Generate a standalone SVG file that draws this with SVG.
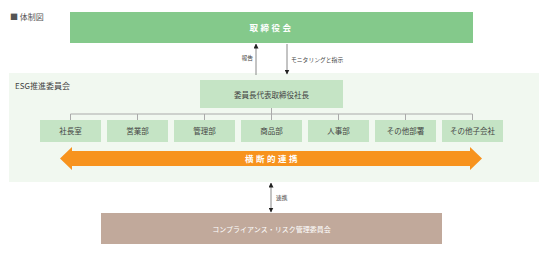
<svg xmlns="http://www.w3.org/2000/svg" width="539" height="253" viewBox="0 0 539 253">
<defs>
<style>
text{font-family:"Noto Sans CJK JP","Noto Sans",sans-serif;}
.dept{fill:#c5e4c5;}
.dt{font-size:7.5px;fill:#444;text-anchor:middle;}
.lbl{font-size:5.8px;fill:#444;}
.tree{stroke:#aaa;stroke-width:1;fill:none;}
.conn{stroke:#888;stroke-width:1;fill:none;}
</style>
<marker id="ah" viewBox="0 0 10 10" refX="9" refY="5" markerWidth="5" markerHeight="5" orient="auto-start-reverse" markerUnits="userSpaceOnUse">
<path d="M0,0 L10,5 L0,10 z" fill="#222"/>
</marker>
</defs>
<rect width="539" height="253" fill="#fff"/>
<text x="10" y="20" style="font-size:8px;fill:#555">■ 体制図</text>

<g id="esg-bg">
<rect x="9" y="73" width="530" height="109" fill="#f1f8f0"/>
<text x="15" y="89" style="font-size:8px;fill:#444">ESG推進委員会</text>
</g>

<g id="connectors">
<line class="conn" x1="256" y1="75" x2="256" y2="44" marker-end="url(#ah)"/>
<line class="conn" x1="287" y1="44" x2="287" y2="74" marker-end="url(#ah)"/>
<text class="lbl" x="253" y="60" text-anchor="end">報告</text>
<text class="lbl" x="291" y="62">モニタリングと指示</text>
<path class="tree" d="M271.5,108 V114 M70.5,114 H472.5 M70.5,114 V120 M137.5,114 V120 M204.5,114 V120 M271.5,114 V120 M338.5,114 V120 M405.5,114 V120 M472.5,114 V120"/>
<line class="conn" x1="271" y1="183" x2="271" y2="212" marker-start="url(#ah)" marker-end="url(#ah)"/>
<text class="lbl" x="276" y="200">連携</text>
</g>

<g id="board">
<rect x="70" y="12" width="403" height="31" fill="#84c98b"/>
<text x="271.5" y="31" style="font-size:8.5px;font-weight:bold;fill:#fff;text-anchor:middle;letter-spacing:2.5px">取締役会</text>
</g>

<g id="chair">
<rect x="200" y="80" width="143" height="28" class="dept"/>
<text x="271.5" y="97.5" class="dt">委員長代表取締役社長</text>
</g>

<g id="dept1"><rect x="40" y="120" width="61" height="22" class="dept"/><text x="70.5" y="134" class="dt">社長室</text></g>
<g id="dept2"><rect x="107" y="120" width="61" height="22" class="dept"/><text x="137.5" y="134" class="dt">営業部</text></g>
<g id="dept3"><rect x="174" y="120" width="61" height="22" class="dept"/><text x="204.5" y="134" class="dt">管理部</text></g>
<g id="dept4"><rect x="241" y="120" width="61" height="22" class="dept"/><text x="271.5" y="134" class="dt">商品部</text></g>
<g id="dept5"><rect x="308" y="120" width="61" height="22" class="dept"/><text x="338.5" y="134" class="dt">人事部</text></g>
<g id="dept6"><rect x="375" y="120" width="61" height="22" class="dept"/><text x="405.5" y="134" class="dt">その他部署</text></g>
<g id="dept7"><rect x="442" y="120" width="61" height="22" class="dept"/><text x="472.5" y="134" class="dt">その他子会社</text></g>

<g id="cross">
<path d="M60,158.5 L72,147 L72,151 L470,151 L470,147 L482,158.5 L470,170 L470,166 L72,166 L72,170 Z" fill="#f7931e"/>
<text x="272.5" y="162" style="font-size:8.5px;font-weight:bold;fill:#fff;text-anchor:middle;letter-spacing:2.5px">横断的連携</text>
</g>

<g id="compliance">
<rect x="101" y="213" width="341" height="31" fill="#c1a99b"/>
<text x="271.5" y="232" style="font-size:7px;fill:#fff;text-anchor:middle">コンプライアンス・リスク管理委員会</text>
</g>
</svg>
